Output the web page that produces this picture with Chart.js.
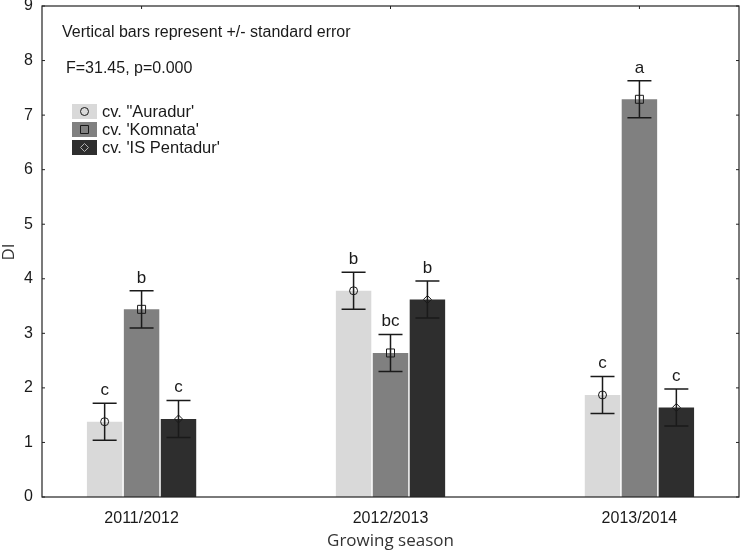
<!DOCTYPE html>
<html>
<head>
<meta charset="utf-8">
<script src="https://cdn.jsdelivr.net/npm/chart.js@4.4.1/dist/chart.umd.min.js"></script>
<style>
  html, body { margin: 0; padding: 0; background: #fff; }
  #wrap { width: 742px; height: 552px; }
</style>
</head>
<body>
<div id="wrap"><canvas id="chart" width="742" height="552"></canvas></div>
<script>
// Seasons and DI means
const seasons   = ['2011/2012', '2012/2013', '2013/2014'];
const auradur   = [1.38, 3.78, 1.87];
const komnata   = [3.44, 2.64, 7.29];
const pentadur  = [1.43, 3.62, 1.64];
const seAuradur  = [0.34, 0.34, 0.34];
const seKomnata  = [0.34, 0.34, 0.34];
const sePentadur = [0.34, 0.34, 0.34];
const lettersAuradur  = ['c', 'b', 'c'];
const lettersKomnata  = ['b', 'bc', 'a'];
const lettersPentadur = ['c', 'b', 'c'];
const yTicks = [0, 1, 2, 3, 4, 5, 6, 7, 8, 9];

const LIGHT = '#d9d9d9';
const MID   = '#808080';
const DARK  = '#2e2e2e';
const INK   = '#1a1a1a';
const FONT  = '"Liberation Sans", Arial, sans-serif';

const series = [
	{ label: 'cv. "Auradur\'', values: auradur,  se: seAuradur,  letters: lettersAuradur,  color: LIGHT, marker: 'circle',  key: INK },
	{ label: "cv. 'Komnata'",  values: komnata,  se: seKomnata,  letters: lettersKomnata,  color: MID,   marker: 'square',  key: INK },
	{ label: "cv. 'IS Pentadur'", values: pentadur, se: sePentadur, letters: lettersPentadur, color: DARK, marker: 'diamond', key: '#b0b0b0' },
];

function drawMarker( ctx, type, x, y, stroke ) {
	ctx.save();
	ctx.strokeStyle = stroke || INK;
	ctx.lineWidth = 1;
	ctx.beginPath();
	if ( type === 'circle' ) {
		ctx.arc( x, y, 4, 0, Math.PI * 2 );
	} else if ( type === 'square' ) {
		ctx.rect( x - 4, y - 4, 8, 8 );
	} else {
		ctx.moveTo( x, y - 4 );
		ctx.lineTo( x + 4, y );
		ctx.lineTo( x, y + 4 );
		ctx.lineTo( x - 4, y );
		ctx.closePath();
	}
	ctx.stroke();
	ctx.restore();
}

const extras = {
	id: 'extras',
	afterDatasetsDraw( chart ) {
		const ctx = chart.ctx;
		const yScale = chart.scales.y;
		series.forEach( ( s, di ) => {
			const meta = chart.getDatasetMeta( di );
			meta.data.forEach( ( bar, i ) => {
				const x = bar.x;
				const hi = yScale.getPixelForValue( s.values[ i ] + s.se[ i ] );
				const lo = yScale.getPixelForValue( s.values[ i ] - s.se[ i ] );
				ctx.save();
				ctx.strokeStyle = INK;
				ctx.lineWidth = 1.5;
				ctx.beginPath();
				ctx.moveTo( x, hi ); ctx.lineTo( x, lo );
				ctx.moveTo( x - 12, hi ); ctx.lineTo( x + 12, hi );
				ctx.moveTo( x - 12, lo ); ctx.lineTo( x + 12, lo );
				ctx.stroke();
				drawMarker( ctx, s.marker, x, bar.y );
				ctx.fillStyle = INK;
				ctx.font = '17px ' + FONT;
				ctx.textAlign = 'center';
				ctx.textBaseline = 'alphabetic';
				ctx.fillText( s.letters[ i ], x, hi - 8 );
				ctx.restore();
			} );
		} );
	},
	afterDraw( chart ) {
		const ctx = chart.ctx;
		const a = chart.chartArea;
		const xScale = chart.scales.x;
		const yScale = chart.scales.y;
		ctx.save();
		// frame
		ctx.strokeStyle = '#222';
		ctx.lineWidth = 1.2;
		ctx.strokeRect( a.left, a.top, a.right - a.left, a.bottom - a.top );
		// inward ticks
		ctx.lineWidth = 1;
		ctx.beginPath();
		yTicks.forEach( v => {
			const py = yScale.getPixelForValue( v );
			ctx.moveTo( a.left, py ); ctx.lineTo( a.left + 3, py );
			ctx.moveTo( a.right, py ); ctx.lineTo( a.right - 3, py );
		} );
		seasons.forEach( ( s, i ) => {
			const px = xScale.getPixelForValue( i );
			ctx.moveTo( px, a.top ); ctx.lineTo( px, a.top + 3 );
		} );
		ctx.stroke();

		// annotations
		ctx.fillStyle = INK;
		ctx.textBaseline = 'middle';
		ctx.textAlign = 'left';
		ctx.font = '16px ' + FONT;
		ctx.fillText( 'Vertical bars represent +/- standard error', 62, 33 );
		ctx.fillText( 'F=31.45, p=0.000', 66, 69 );

		// legend
		series.forEach( ( s, i ) => {
			const top = 104 + i * 18;
			ctx.fillStyle = s.color;
			ctx.fillRect( 72, top, 25, 15 );
			drawMarker( ctx, s.marker, 84.5, top + 7.5, s.key );
			ctx.fillStyle = INK;
			ctx.font = '16.5px ' + FONT;
			ctx.fillText( s.label, 102, top + 8 );
		} );

		// axis titles
		ctx.fillStyle = '#333';
		ctx.font = '17px "Open Sans", sans-serif';
		ctx.textAlign = 'center';
		ctx.fillText( 'Growing season', ( a.left + a.right ) / 2, 541 );
		ctx.translate( 9, 252 );
		ctx.rotate( -Math.PI / 2 );
		ctx.fillText( 'DI', 0, 0 );
		ctx.restore();
	},
};

new Chart( document.getElementById( 'chart' ), {
	type: 'bar',
	data: {
		datasets: series.map( s => ( {
			label: s.label,
			data: s.values.map( ( v, i ) => ( { x: i, y: v } ) ),
			backgroundColor: s.color,
			borderWidth: 0,
			categoryPercentage: 0.445,
			barPercentage: 0.96,
		} ) ),
	},
	options: {
		responsive: false,
		animation: false,
		layout: { padding: { top: 6, right: 3, left: 0, bottom: 0 } },
		plugins: {
			legend: { display: false },
			tooltip: { enabled: false },
		},
		scales: {
			x: {
				type: 'linear',
				min: -0.4,
				max: 2.4,
				offset: false,
				afterBuildTicks: scale => { scale.ticks = seasons.map( ( s, i ) => ( { value: i } ) ); },
				afterFit: scale => {
					scale.height = 55;
					scale.paddingLeft = 0;
					scale.paddingRight = 0;
				},
				grid: { display: false, drawTicks: false, offset: false },
				border: { display: false },
				ticks: {
					callback: v => seasons[ v ],
					color: INK,
					font: { family: FONT, size: 16 },
					padding: 12,
					maxRotation: 0,
				},
			},
			y: {
				min: 0,
				max: 9,
				afterBuildTicks: scale => { scale.ticks = yTicks.map( v => ( { value: v } ) ); },
				afterFit: scale => {
					scale.width = 42;
					scale.paddingTop = 0;
					scale.paddingBottom = 0;
				},
				grid: { display: false, drawTicks: false },
				border: { display: false },
				ticks: {
					color: INK,
					font: { family: FONT, size: 16 },
					padding: 9,
				},
			},
		},
	},
	plugins: [ extras ],
} );
</script>
</body>
</html>
